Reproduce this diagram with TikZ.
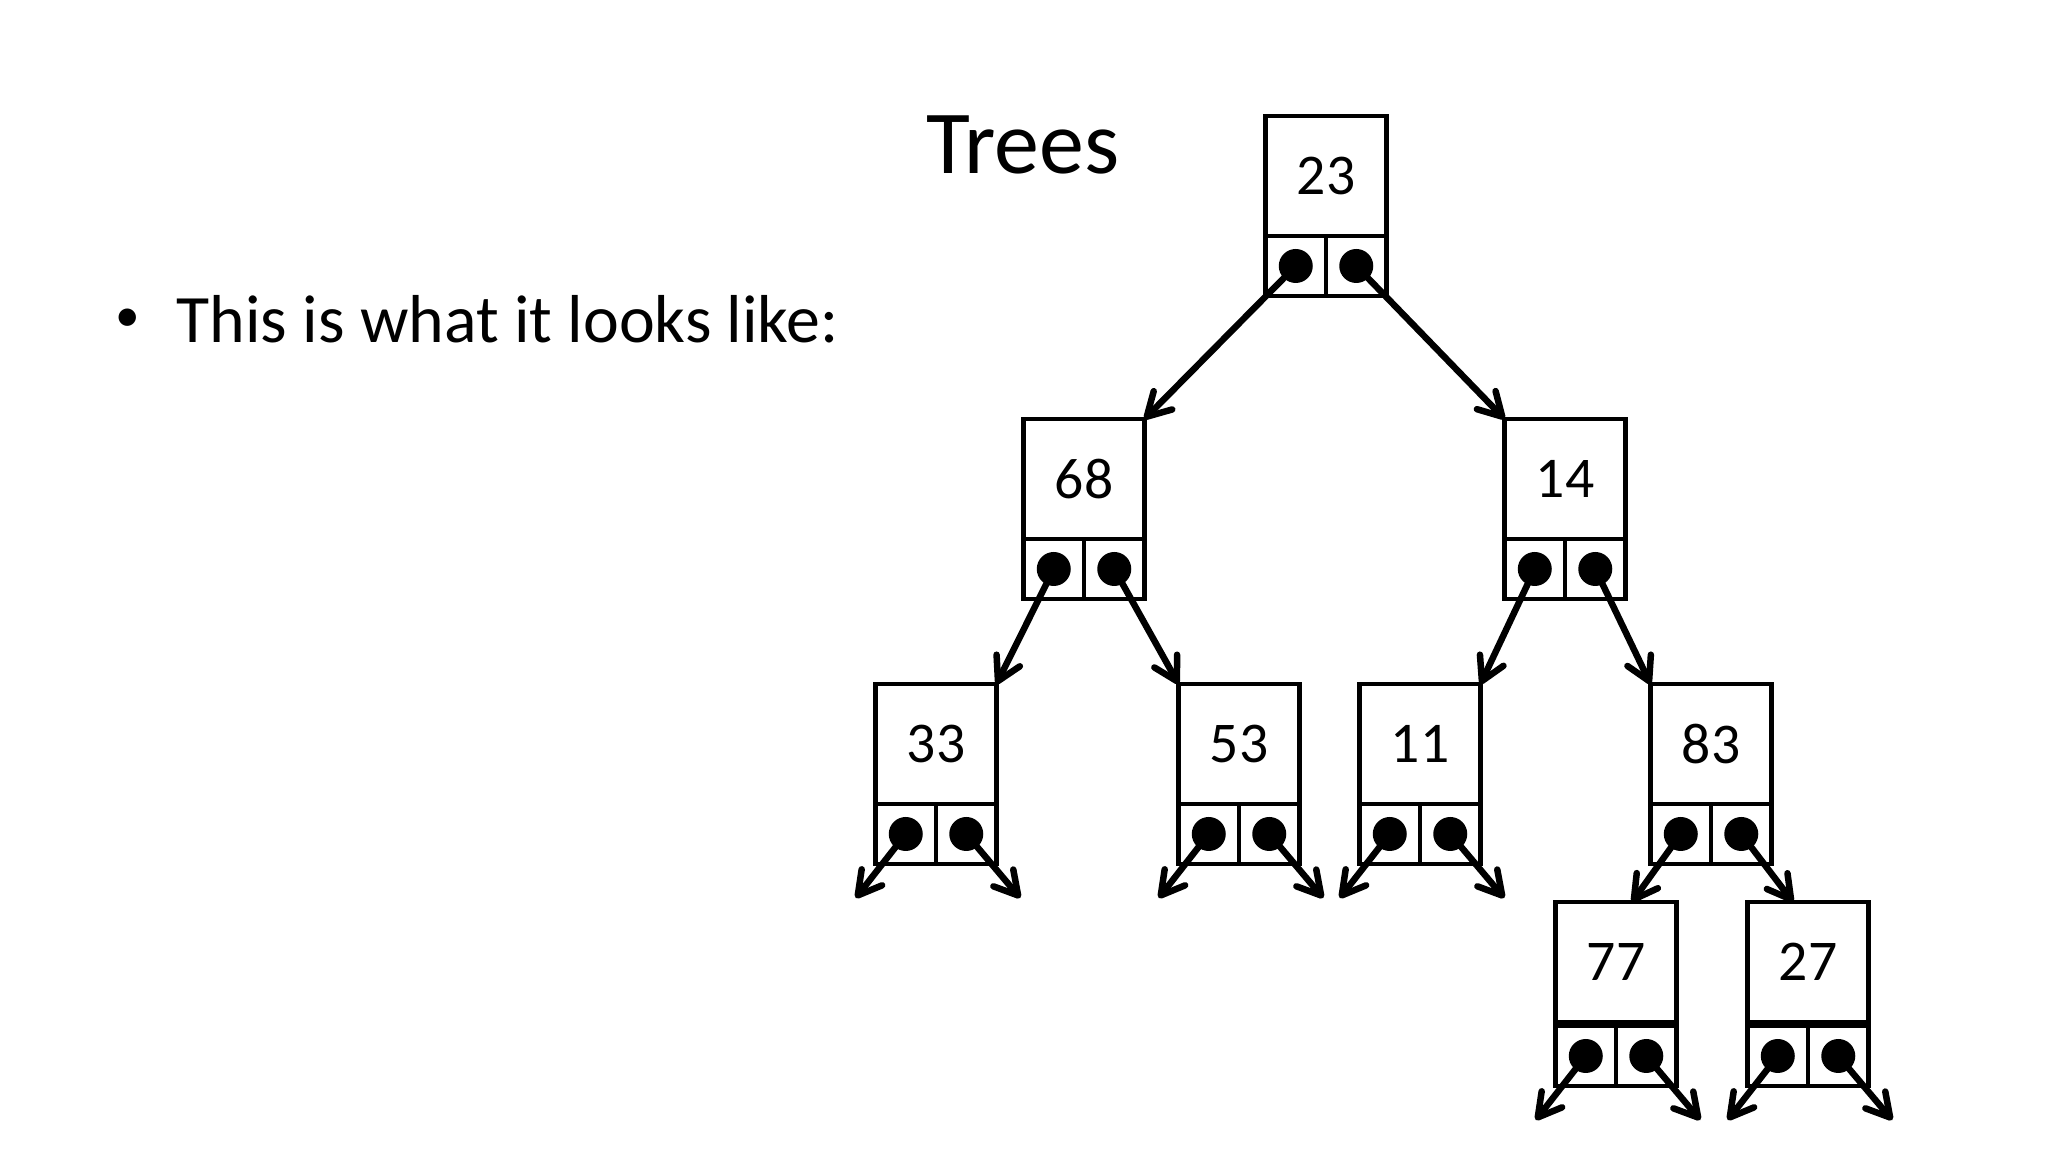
\documentclass[tikz,border=0pt]{standalone}
\usepackage{fontspec}
\setmainfont{Carlito}
\usetikzlibrary{arrows.meta,positioning,calc}

\begin{document}
\begin{tikzpicture}[x=0.1mm,y=-0.1mm,
  valbox/.style={draw,line width=0.45mm,minimum width=12.1mm,minimum height=12mm,
                 inner sep=0pt,outer sep=0pt,font=\fontsize{16.4}{19}\selectfont},
  cell/.style={draw,line width=0.45mm,minimum width=6.05mm,minimum height=6mm,
               inner sep=0pt,outer sep=0pt},
  dot/.style={circle,fill=black,inner sep=0pt,minimum size=3.4mm},
  arrow/.style={-{Straight Barb[length=2.3mm,width=2.6mm,round]},line width=0.65mm,line cap=round}
]
\useasboundingbox (0,0) rectangle (2048,1152);
\node[font=\fontsize{25.6}{30}\selectfont,anchor=base] (title) at (1023,174) {Trees};
\node[font=\fontsize{14}{16}\selectfont,inner sep=0pt] (bullet) at (128,320) {\textbullet};
\node[font=\fontsize{19.3}{23}\selectfont,anchor=base west,inner sep=0pt] (item) at (176,343) {This is what it looks like:};

% tree nodes: name/x/y/value/gap under the value box
\foreach \n/\x/\y/\v/\g in {n23/1326/176/23/0, n68/1084/479/68/0, n14/1565/479/14/0,
    n33/936/744/33/0, n53/1239/744/53/0, n11/1420/744/11/0, n83/1711/744/83/0,
    n77/1616/962/77/4, n27/1808/962/27/4}{
  \node[valbox] (\n) at (\x,\y) {\v};
  \node[cell,anchor=north west] (\n-l) at ($(\n.south west)+(0,\g)$) {};
  \node[cell,anchor=north east] (\n-r) at ($(\n.south east)+(0,\g)$) {};
  \node[dot] (\n-pl) at (\n-l.center) {};
  \node[dot] (\n-pr) at (\n-r.center) {};
  \coordinate (\n-dl) at ($(\n-pl)+(-50,64)$);
  \coordinate (\n-dr) at ($(\n-pr)+(54,64)$);
}

\draw[arrow] (n23-pl.center) -- (n68.north east);
\draw[arrow] (n23-pr.center) -- (n14.north west);
\draw[arrow] (n68-pl.center) -- (n33.north east);
\draw[arrow] (n68-pr.center) -- (n53.north west);
\draw[arrow] (n14-pl.center) -- (n11.north east);
\draw[arrow] (n14-pr.center) -- (n83.north west);
\draw[arrow] (n83-pl.center) -- ([xshift=1.6mm]n77.north);
\draw[arrow] (n83-pr.center) -- ([xshift=-1.5mm]n27.north);

% pointers that lead nowhere
\foreach \n in {n33,n53,n11,n77,n27}{
  \draw[arrow] (\n-pl.center) -- (\n-dl);
  \draw[arrow] (\n-pr.center) -- (\n-dr);
}
\end{tikzpicture}
\end{document}
